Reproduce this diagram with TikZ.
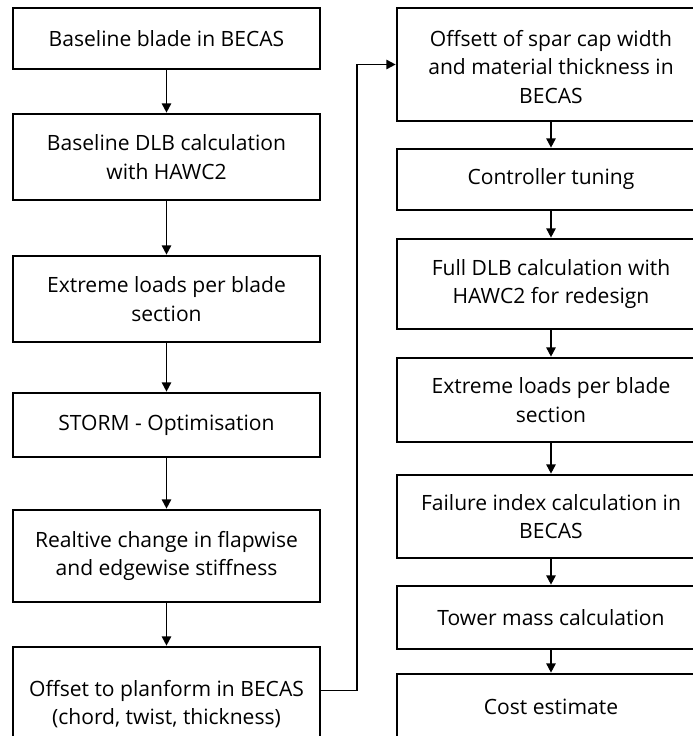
\documentclass[tikz,border=0pt]{standalone}
\usepackage{fontspec}
\setmainfont{Open Sans}
\usetikzlibrary{arrows.meta}
\begin{document}
\begin{tikzpicture}[x=0.75pt,y=-0.75pt,
  lbox/.style={draw, line width=2pt, minimum width=230.25pt, inner sep=0pt, align=center,
    font=\fontsize{15.8}{21.5}\selectfont},
  rbox/.style={lbox, minimum width=231pt},
  conn/.style={line width=1.3pt, -{Triangle[length=7pt,width=7pt]}}]
\useasboundingbox (0,0) rectangle (693,736);
\clip (0,0) rectangle (693,736);
% left column
\node[lbox, minimum height=45.75pt] (b1) at (166.5,38.5) {Baseline blade in BECAS};
\node[lbox, minimum height=64.5pt] (b2) at (166.5,157) {Baseline DLB calculation\\with HAWC2};
\node[lbox, minimum height=64.5pt] (b3) at (166.5,299) {Extreme loads per blade\\section};
\node[lbox, minimum height=48pt] (b4) at (166.5,425) {STORM - Optimisation};
\node[lbox, minimum height=69pt] (b5) at (166.5,556) {Realtive change in flapwise\\and edgewise stiffness};
\node[lbox, minimum height=85.5pt] (b6) at (166.5,704) {Offset to planform in BECAS\\(chord, twist, thickness)};
% right column
\node[rbox, minimum height=84.75pt] (r1) at (551,64.5) {\\[-6pt]Offsett of spar cap width\\and material thickness in\\BECAS};
\node[rbox, minimum height=45.75pt] (r2) at (551,179.5) {Controller tuning};
\node[rbox, minimum height=67.5pt] (r3) at (551,284) {Full DLB calculation with\\HAWC2 for redesign};
\node[rbox, minimum height=63pt] (r4) at (551,400) {Extreme loads per blade\\section};
\node[rbox, minimum height=62.25pt] (r5) at (551,516.5) {Failure index calculation in\\BECAS};
\node[rbox, minimum height=47.25pt] (r6) at (551,617.5) {Tower mass calculation};
\node[rbox, minimum height=49.5pt] (r7) at (551,707) {Cost estimate};
% connectors
\draw[conn] (b1) -- (b2);
\draw[conn] (b2) -- (b3);
\draw[conn] (b3) -- (b4);
\draw[conn] (b4) -- (b5);
\draw[conn] (b5) -- (b6);
\draw[conn] (r1) -- (r2);
\draw[conn] (r2) -- (r3);
\draw[conn] (r3) -- (r4);
\draw[conn] (r4) -- (r5);
\draw[conn] (r5) -- (r6);
\draw[conn] (r6) -- (r7);
\coordinate (fb) at (357,690.5);
\draw[conn] (b6.east |- fb) -- (fb) |- (r1.west);
\end{tikzpicture}
\end{document}
